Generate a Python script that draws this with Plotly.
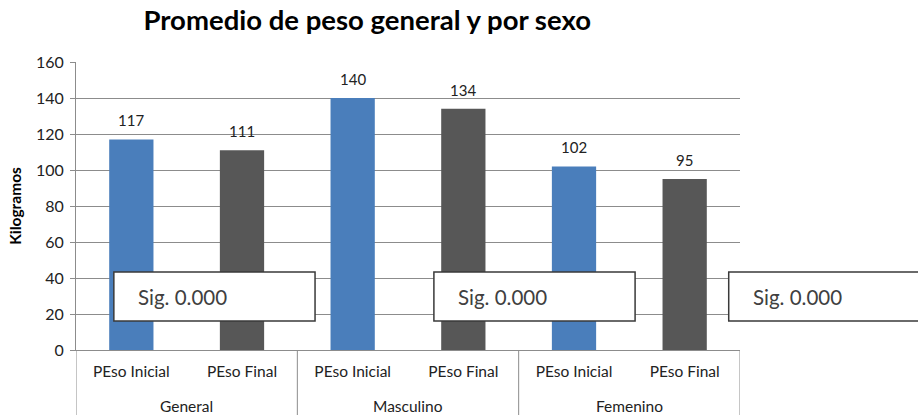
import plotly.graph_objects as go

# Average weight data, overall and by sex
groups = ["General", "Masculino", "Femenino"]
measures = ["PEso Inicial", "PEso Final"]
weights = [117, 111, 140, 134, 102, 95]
sig_labels = ["Sig. 0.000", "Sig. 0.000", "Sig. 0.000"]

BLUE = "#4A7EBB"
GRAY = "#575757"
AXIS = "#8c8c8c"
FONT = "Lato, 'Open Sans', sans-serif"

# one slot per (group, measure) pair
slots = list(range(len(groups) * len(measures)))
slot_measures = [m for _ in groups for m in measures]
colors = [BLUE if m == measures[0] else GRAY for m in slot_measures]

fig = go.Figure()
fig.add_trace(go.Bar(
    x=slots,
    y=weights,
    marker=dict(color=colors, line=dict(width=0)),
    width=0.4,
    text=[str(v) for v in weights],
    textposition="none",
    hoverinfo="skip",
    showlegend=False,
))

# Value labels above each bar
for i, v in zip(slots, weights):
    fig.add_annotation(
        x=i, xref="x", y=v, yref="y", text=str(v), showarrow=False,
        yanchor="bottom", yshift=8,
        font=dict(family=FONT, size=15, color="#222222"),
    )

# Group labels under the measure labels, with dividers between groups
n = len(measures)
for gi, g in enumerate(groups):
    center = gi * n + (n - 1) / 2
    fig.add_annotation(
        x=center, xref="x", y=0, yref="paper", yshift=-56,
        text=g, showarrow=False, yanchor="middle",
        font=dict(family=FONT, size=15.5, color="#222222"),
    )
for b in range(len(groups) + 1):
    xb = b * n - 0.5
    fig.add_shape(
        type="line", xref="x", yref="paper",
        x0=xb, x1=xb, y0=0, y1=-0.23,
        line=dict(color=AXIS, width=1),
    )

# Significance boxes
box_left = [0.057, 0.539, 0.983]
box_w = 0.303
for xl, s in zip(box_left, sig_labels):
    fig.add_shape(
        type="rect", xref="paper", yref="y",
        x0=xl, x1=xl + box_w, y0=16.1, y1=43.3,
        line=dict(color="#3a3a3a", width=1.5),
        fillcolor="white", layer="above",
    )
    fig.add_annotation(
        x=xl + 0.034, xref="paper", y=29.7, yref="y",
        text=s, showarrow=False, xanchor="left", yanchor="middle",
        font=dict(family=FONT, size=20.5, color="#404040"),
    )

fig.update_layout(
    width=918, height=415,
    margin=dict(l=76, r=178, t=62, b=65),
    paper_bgcolor="white", plot_bgcolor="white",
    title=dict(
        text="<b>Promedio de peso general y por sexo</b>",
        x=0.4, xanchor="center", y=0.95, yanchor="middle",
        font=dict(family=FONT, size=27.5, color="black"),
    ),
    font=dict(family=FONT, size=14, color="#222222"),
)

fig.update_yaxes(
    range=[0, 160], dtick=20,
    showgrid=True, gridcolor=AXIS, gridwidth=1,
    showline=True, linecolor=AXIS, linewidth=1,
    ticks="outside", ticklen=5, tickcolor=AXIS,
    ticklabelstandoff=3,
    tickfont=dict(family=FONT, size=16, color="#222222"),
    title=dict(text="<b>Kilogramos</b>", standoff=10,
               font=dict(family=FONT, size=15.5, color="black")),
    zeroline=False,
)
fig.update_xaxes(
    range=[-0.5, len(slots) - 0.5],
    tickmode="array", tickvals=slots, ticktext=slot_measures,
    showline=True, linecolor=AXIS, linewidth=1,
    showgrid=False, zeroline=False,
    ticks="", ticklabelstandoff=7,
    tickfont=dict(family=FONT, size=15.5, color="#222222"),
)

fig.write_html("out.html")
